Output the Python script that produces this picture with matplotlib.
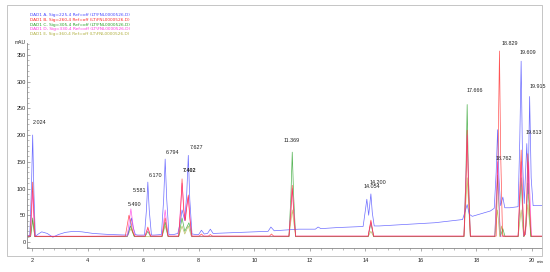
import numpy as np
import matplotlib
matplotlib.use("Agg")
import matplotlib.pyplot as plt
from matplotlib.patches import Rectangle
from matplotlib.ticker import MultipleLocator

plt.rcParams['font.family'] = ['Liberation Sans', 'DejaVu Sans']

# chromatogram traces, vertices (min, mAU)
tA = [1.85, 1.92, 1.98, 2.024, 2.07, 2.12, 2.2, 2.35, 2.55, 2.75, 2.95, 3.2, 3.5, 3.8,
      4.2, 4.8, 5.4, 5.45, 5.52, 5.581, 5.64, 5.72, 5.8, 6.05, 6.12, 6.170, 6.22, 6.3,
      6.4, 6.66, 6.74, 6.794, 6.85, 6.93, 7.1, 7.25, 7.35, 7.402, 7.5, 7.57, 7.627,
      7.68, 7.76, 7.9, 8.0, 8.1, 8.2, 8.32, 8.42, 8.52, 9.0, 10.0, 10.5, 10.6, 10.72,
      11.0, 11.6, 12.2, 12.3, 12.4, 13.0, 13.92, 13.99, 14.054, 14.12, 14.200, 14.25,
      14.32, 14.5, 15.5, 16.5, 17.5, 17.58, 17.666, 17.74, 17.85, 18.5, 18.64, 18.71,
      18.762, 18.81, 18.87, 18.95, 19.02, 19.2, 19.5, 19.56, 19.609, 19.66, 19.72,
      19.813, 19.86, 19.915, 19.97, 20.04, 20.36]
yA = [12, 12, 100, 200, 90, 10, 14, 19, 16, 9, 14, 18, 20, 19,
      16, 14, 13, 13, 28, 45, 28, 14, 13, 13, 60, 112, 60, 13,
      13, 14, 80, 155, 80, 14, 14, 16, 40, 60, 40, 90, 162,
      80, 15, 14, 14, 22, 15, 16, 24, 16, 17, 19, 20, 28, 21,
      22, 24, 24, 28, 25, 27, 29, 55, 80, 50, 90, 55,
      30, 30, 33, 36, 42, 55, 70, 52, 48, 58, 63, 130,
      210, 120, 68, 84, 64, 64, 66, 190, 338, 150, 72,
      184, 90, 272, 120, 68, 68]

tB = [1.85, 1.93, 1.98, 2.024, 2.07, 2.11, 5.36, 5.43, 5.490, 5.56, 5.62, 5.7, 6.07,
      6.170, 6.27, 6.68, 6.794, 6.9, 7.28, 7.35, 7.402, 7.46, 7.52, 7.58, 7.627, 7.68,
      7.76, 8.02, 8.1, 8.18, 8.35, 8.42, 8.5, 10.55, 10.62, 10.7, 11.25, 11.32, 11.369,
      11.42, 11.49, 14.1, 14.200, 14.3, 17.55, 17.62, 17.666, 17.71, 17.78, 18.71,
      18.78, 18.829, 18.87, 18.94, 19.5, 19.56, 19.609, 19.66, 19.72, 19.78, 19.85,
      19.9, 19.97, 20.36]
yB = [11, 11, 60, 112, 50, 10, 11, 32, 50, 38, 20, 11, 11,
      28, 11, 11, 45, 11, 11, 60, 118, 60, 40, 70, 88, 45,
      11, 11, 15, 11, 11, 14, 11, 11, 15, 11, 11, 55, 106,
      55, 11, 11, 41, 11, 11, 100, 209, 100, 11, 11,
      170, 357, 170, 11, 11, 90, 172, 80, 11, 30, 165,
      80, 11, 11]

tC = [1.85, 1.95, 2.024, 2.1, 5.42, 5.55, 5.68, 6.07, 6.170, 6.27, 6.68, 6.794, 6.9,
      7.28, 7.402, 7.5, 7.65, 7.76, 11.25, 11.32, 11.369, 11.42, 11.49, 14.1, 14.200,
      14.3, 17.55, 17.62, 17.666, 17.71, 17.78, 18.66, 18.762, 18.86, 18.95, 19.03,
      19.5, 19.609, 19.7, 19.76, 19.85, 19.96, 20.36]
yC = [10, 10, 45, 10, 10, 30, 10, 10, 20, 10, 10, 37, 10,
      10, 45, 20, 36, 10, 10, 85, 168, 85, 10, 10, 35,
      10, 10, 125, 257, 125, 10, 10, 125, 10, 25, 10,
      10, 120, 10, 15, 110, 10, 10]

tD = [1.85, 1.95, 2.024, 2.1, 5.43, 5.56, 5.69, 6.07, 6.170, 6.27, 6.68, 6.794, 6.9,
      7.28, 7.402, 7.5, 7.627, 7.74, 11.25, 11.369, 11.49, 14.1, 14.200, 14.3, 17.55,
      17.666, 17.78, 18.66, 18.762, 18.86, 19.5, 19.609, 19.7, 19.77, 19.88, 19.98,
      20.36]
yD = [11, 11, 95, 11, 11, 62, 11, 11, 25, 11, 11, 60, 11,
      11, 110, 40, 85, 11, 11, 100, 11, 11, 38, 11, 11,
      200, 11, 11, 150, 11, 11, 150, 11, 15, 150, 11,
      11]

tE = [1.85, 1.95, 2.024, 2.1, 5.43, 5.56, 5.69, 6.68, 6.794, 6.9, 7.28, 7.402, 7.5,
      7.627, 7.74, 11.25, 11.369, 11.49, 14.1, 14.200, 14.3, 17.55, 17.666, 17.78,
      18.66, 18.762, 18.84, 18.9, 18.97, 19.5, 19.609, 19.7, 19.76, 19.85, 19.96,
      20.36]
yE = [10, 10, 40, 10, 10, 25, 10, 10, 30, 10, 10, 30, 15,
      30, 10, 10, 60, 10, 10, 20, 10, 10, 120, 10,
      10, 60, 10, 30, 10, 10, 60, 10, 15, 70, 10,
      10]

signals = [
    "DAD1 A, Sig=225,4 Ref=off (LT\\FNL0000526.D)",
    "DAD1 B, Sig=260,4 Ref=off (LT\\FNL0000526.D)",
    "DAD1 C, Sig=305,4 Ref=off (LT\\FNL0000526.D)",
    "DAD1 D, Sig=330,4 Ref=off (LT\\FNL0000526.D)",
    "DAD1 E, Sig=360,4 Ref=off (LT\\FNL0000526.D)",
]
colors = ["#4848ff", "#ff2828", "#28a028", "#ff38e0", "#b0b040"]

# peak labels (text, x, y)
peak_txt = ["2.024", "5.490", "5.581", "6.170", "6.794", "7.627", "7.402", "11.369",
            "14.200", "14.054", "17.666", "18.829", "18.762", "19.609", "19.813", "19.915"]
peak_x = [2.04, 5.46, 5.64, 6.21, 6.82, 7.69, 7.44, 11.07,
          14.17, 13.92, 17.66, 18.92, 18.70, 19.57, 19.78, 19.93]
peak_y = [223, 71, 97, 125, 168, 176, 133, 189,
          112, 103, 284, 372, 157, 354, 204, 290]

fig = plt.figure(figsize=(5.5, 2.72), dpi=100)
ax = fig.add_axes([27 / 550, 1 - 248 / 272, 515 / 550, 205 / 272])

traces = [(tA, yA), (tB, yB), (tC, yC), (tD, yD), (tE, yE)]
order = [4, 2, 0, 3, 1]  # olive & green underneath, red on top
for i in order:
    t, y = traces[i]
    ax.plot(t, y, color=colors[i], lw=0.5, alpha=0.8)

for s, x, y in zip(peak_txt, peak_x, peak_y):
    ax.text(x, y, s, fontsize=3.9, ha="left", va="center", color="#222222",
            clip_on=False, fontweight="bold" if s == "7.402" else "normal")

ax.set_xlim(1.82, 20.36)
ax.set_ylim(-11.2, 372)
ax.spines["top"].set_visible(False)
ax.spines["right"].set_visible(False)
for sp in ["left", "bottom"]:
    ax.spines[sp].set_color("#888888")
    ax.spines[sp].set_linewidth(0.6)

ax.xaxis.set_minor_locator(MultipleLocator(0.4))
ax.set_xticks(np.arange(2, 21, 2))
ax.yaxis.set_minor_locator(MultipleLocator(10))
ax.set_yticks(np.arange(0, 351, 50))
ax.tick_params(axis="x", which="major", length=2.5, width=0.5, pad=5,
               labelsize=4, colors="#888888", labelcolor="#222222")
ax.tick_params(axis="x", which="minor", length=1.5, width=0.4, colors="#888888")
ax.tick_params(axis="y", which="major", direction="in", length=2, width=0.5, pad=1,
               labelsize=4, colors="#888888", labelcolor="#222222")
ax.tick_params(axis="y", which="minor", direction="in", length=1.2, width=0.4,
               colors="#888888")

fig.text(15 / 550, 1 - 43 / 272, "mAU", fontsize=3.6, ha="left", va="center", color="#222222")
fig.text(537 / 550, 1 - 262 / 272, "min", fontsize=3.2, ha="left", va="center", color="#222222")

for i, (s, c) in enumerate(zip(signals, colors)):
    fig.text(30 / 550, 1 - (15 + 4.8 * i) / 272, s, fontsize=3.1, color=c,
             ha="left", va="center", family="DejaVu Sans")

fig.patches.append(Rectangle((7 / 550, 1 - 256 / 272), 535 / 550, 251 / 272,
                             transform=fig.transFigure, fill=False,
                             edgecolor="#bbbbbb", lw=0.6))

fig.savefig("out.png", dpi=100)
